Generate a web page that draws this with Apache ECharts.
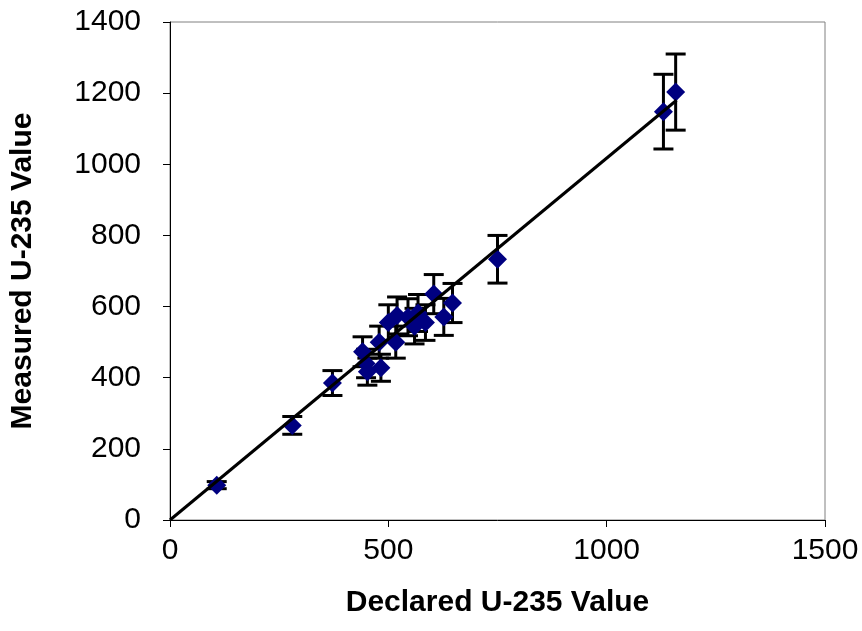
<!DOCTYPE html>
<html>
<head>
<meta charset="utf-8">
<script src="https://cdn.jsdelivr.net/npm/echarts@6/dist/echarts.min.js"></script>
<style>
  html, body { margin: 0; padding: 0; background: #fff; }
  #chart { width: 862px; height: 631px; }
</style>
</head>
<body>
<div id="chart"></div>
<script>
// 数据：申报值、测量值、误差
const declared = [107, 280, 372, 441, 449, 452, 483, 479, 500, 517, 520, 545, 560, 568, 585, 604, 627, 647, 750, 1130, 1158]
const measured = [98, 266, 385, 473, 440, 417, 428, 500, 555, 500, 575, 570, 545, 582, 555, 635, 571, 610, 733, 1148, 1203]
const errors = [10, 25, 35, 42, 40, 38, 38, 45, 50, 45, 52, 52, 50, 52, 50, 55, 52, 55, 67, 105, 107]
// 拟合线端点
const fitX = [0, 1160]
const fitY = [0, 1180]

const points = declared.map((x, i) => [x, measured[i]])
const errData = declared.map((x, i) => [x, measured[i] - errors[i], measured[i] + errors[i]])
const fitLine = fitX.map((x, i) => [x, fitY[i]])

const chart = echarts.init(document.getElementById('chart'))

const font = 'Liberation Sans, Arial, sans-serif'

chart.setOption({
  animation: false,
  grid: { left: 168, right: 37, top: 22, bottom: 111, show: true, borderColor: '#808080', borderWidth: 1 },
  xAxis: {
    type: 'value',
    min: 0, max: 1500, interval: 500,
    name: 'Declared U-235 Value',
    nameLocation: 'middle',
    nameGap: 68,
    nameTextStyle: { fontFamily: font, fontSize: 30, fontWeight: 'bold', color: '#000' },
    axisLine: { show: true, lineStyle: { color: '#000', width: 1 } },
    axisTick: { show: true, length: 7, lineStyle: { color: '#000' } },
    axisLabel: { fontFamily: font, fontSize: 30, color: '#000', margin: 16, formatter: v => String(v) },
    splitLine: { show: false }
  },
  yAxis: {
    type: 'value',
    min: 0, max: 1400, interval: 200,
    name: 'Measured U-235 Value',
    nameLocation: 'middle',
    nameGap: 132,
    nameTextStyle: { fontFamily: font, fontSize: 30, fontWeight: 'bold', color: '#000' },
    axisLine: { show: true, lineStyle: { color: '#000', width: 1 } },
    axisTick: { show: true, length: 7, lineStyle: { color: '#000' } },
    axisLabel: { fontFamily: font, fontSize: 30, color: '#000', margin: 29, formatter: v => String(v) },
    splitLine: { show: false }
  },
  series: [
    {
      type: 'custom',
      z: 2,
      data: errData,
      renderItem: function (params, api) {
        const x = api.value(0)
        const lo = api.coord([x, api.value(1)])
        const hi = api.coord([x, api.value(2)])
        const half = 10
        const style = { stroke: '#000', lineWidth: 3 }
        return {
          type: 'group',
          children: [
            { type: 'line', shape: { x1: lo[0], y1: lo[1], x2: hi[0], y2: hi[1] }, style: style },
            { type: 'line', shape: { x1: lo[0] - half, y1: lo[1], x2: lo[0] + half, y2: lo[1] }, style: style },
            { type: 'line', shape: { x1: hi[0] - half, y1: hi[1], x2: hi[0] + half, y2: hi[1] }, style: style }
          ]
        }
      }
    },
    {
      type: 'scatter',
      z: 3,
      symbol: 'diamond',
      symbolSize: [19, 19],
      itemStyle: { color: '#000080', opacity: 1 },
      data: points
    },
    {
      type: 'line',
      z: 4,
      symbol: 'none',
      lineStyle: { color: '#000', width: 3 },
      data: fitLine
    }
  ]
})
</script>
</body>
</html>
